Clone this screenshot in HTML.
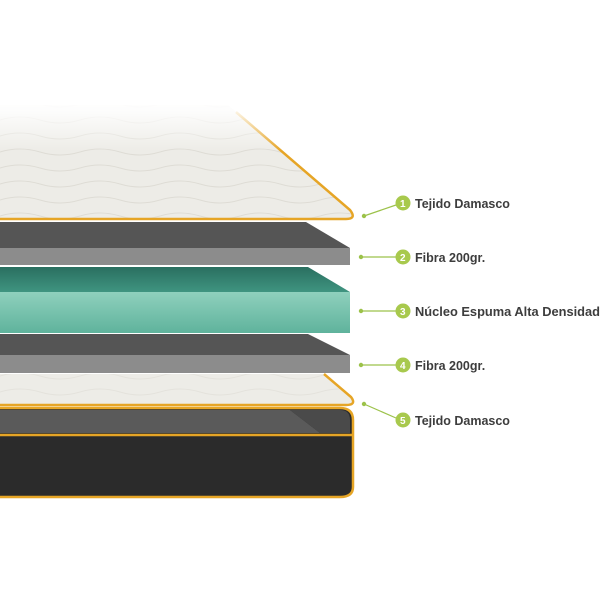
<!DOCTYPE html>
<html><head><meta charset="utf-8"><style>
html,body{margin:0;padding:0;background:#fff;width:600px;height:600px;overflow:hidden}
svg{display:block}
text{font-family:"Liberation Sans",sans-serif;font-weight:bold;fill:#3d3d3d;font-size:12.5px}
.n{fill:#fff;font-size:10px}
</style></head><body>
<svg width="600" height="600" viewBox="0 0 600 600" xmlns="http://www.w3.org/2000/svg">
<defs>
<linearGradient id="fade" x1="0" y1="0" x2="0" y2="1">
<stop offset="0" stop-color="#fff" stop-opacity="1"/>
<stop offset="0.12" stop-color="#fff" stop-opacity="0.9"/>
<stop offset="0.45" stop-color="#fff" stop-opacity="0"/>
</linearGradient>
<linearGradient id="teal" x1="0" y1="0" x2="0" y2="1">
<stop offset="0" stop-color="#8fd0bd"/><stop offset="1" stop-color="#5fb39c"/>
</linearGradient>
<linearGradient id="tealtop" x1="0" y1="0" x2="0" y2="1">
<stop offset="0" stop-color="#2a6f60"/><stop offset="1" stop-color="#3f9480"/>
</linearGradient>
<pattern id="wave" width="80" height="16" patternUnits="userSpaceOnUse">
<path d="M0 8 Q20 2 40 8 T80 8" fill="none" stroke="#dedcd5" stroke-width="1"/>
</pattern>
</defs>

<!-- Layer 1 top tejido -->
<path d="M0 105 L228 105 L350 210 Q356 218 346 219 L0 219 Z" fill="#edece7"/>
<path d="M0 105 L228 105 L350 210 Q356 218 346 219 L0 219 Z" fill="url(#wave)"/>
<path d="M236 112 L350 210 Q357 219 346 219 L0 219" fill="none" stroke="#e6a526" stroke-width="2.5"/>
<rect x="0" y="95" width="360" height="125" fill="url(#fade)"/>

<!-- Layer 2 fibra -->
<path d="M0 222 L306 222 L350 248 L0 248 Z" fill="#555"/>
<rect x="0" y="248" width="350" height="17" fill="#8c8c8c"/>

<!-- Layer 3 teal -->
<path d="M0 267 L308 267 L350 292 L0 292 Z" fill="url(#tealtop)"/>
<rect x="0" y="292" width="350" height="41" fill="url(#teal)"/>

<!-- Layer 4 fibra -->
<path d="M0 334 L308 334 L350 355 L0 355 Z" fill="#555"/>
<rect x="0" y="355" width="350" height="18" fill="#8c8c8c"/>

<!-- Layer 5 tejido -->
<path d="M0 374 L324 374 L351 397 Q357 405 346 405 L0 405 Z" fill="#edece7"/>
<path d="M0 374 L324 374 L351 397 Q357 405 346 405 L0 405 Z" fill="url(#wave)" opacity="0.6"/>
<path d="M324 374 L351 397 Q357 405 346 405 L0 405" fill="none" stroke="#e6a526" stroke-width="2.5"/>

<!-- Base -->
<path d="M0 408 L340 408 Q353 408 353 420 L353 487 Q353 497 340 497 L0 497 Z" fill="#2b2b2b"/>
<path d="M0 410 L290 410 L320 433 L0 433 Z" fill="#5a5a5a"/>
<path d="M290 410 L340 410 Q350 410 350 420 L350 433 L320 433 Z" fill="#4a4a4a"/>
<path d="M0 408 L340 408 Q353 408 353 420 L353 487 Q353 497 340 497 L0 497" fill="none" stroke="#e6a526" stroke-width="2.5"/>
<line x1="0" y1="435" x2="352" y2="435" stroke="#e6a526" stroke-width="2.5"/>

<!-- connectors -->
<g stroke="#9cc24a" stroke-width="1.2" fill="#9cc24a">
<line x1="364" y1="216" x2="396" y2="205"/><circle cx="364" cy="216" r="1.6"/>
<line x1="361" y1="257" x2="396" y2="257"/><circle cx="361" cy="257" r="1.6"/>
<line x1="361" y1="311" x2="396" y2="311"/><circle cx="361" cy="311" r="1.6"/>
<line x1="361" y1="365" x2="396" y2="365"/><circle cx="361" cy="365" r="1.6"/>
<line x1="364" y1="404" x2="396" y2="418"/><circle cx="364" cy="404" r="1.6"/>
</g>
<g fill="#a8c94d">
<circle cx="403" cy="203" r="7.5"/><circle cx="403" cy="257" r="7.5"/><circle cx="403" cy="311" r="7.5"/><circle cx="403" cy="365" r="7.5"/><circle cx="403" cy="420" r="7.5"/>
</g>
<text class="n" x="400" y="207">1</text>
<text class="n" x="400" y="261">2</text>
<text class="n" x="400" y="315">3</text>
<text class="n" x="400" y="369">4</text>
<text class="n" x="400" y="424">5</text>

<text x="415" y="208">Tejido Damasco</text>
<text x="415" y="262">Fibra 200gr.</text>
<text x="415" y="316" textLength="185" lengthAdjust="spacingAndGlyphs">Núcleo Espuma Alta Densidad</text>
<text x="415" y="370">Fibra 200gr.</text>
<text x="415" y="425">Tejido Damasco</text>
</svg>
</body></html>
